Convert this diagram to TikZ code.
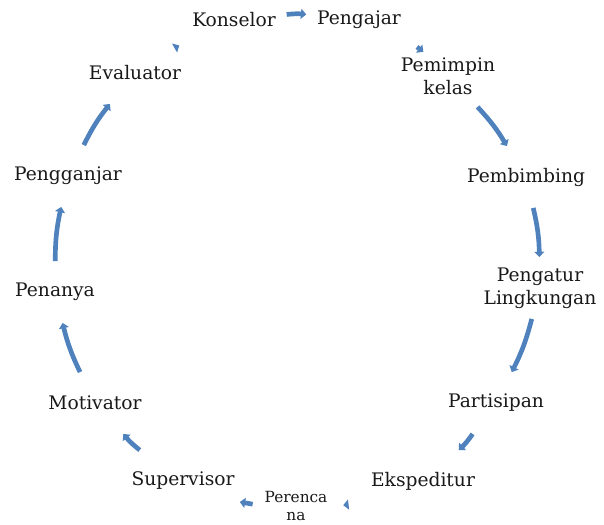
\documentclass[tikz,border=0pt]{standalone}
\usepackage{fontspec}
\setmainfont{DejaVu Serif}
\usetikzlibrary{arrows.meta}
\definecolor{siklusbiru}{HTML}{4F81BD}

\begin{document}
\begin{tikzpicture}[x=0.75pt, y=0.75pt,
    peran/.style={inner xsep=8pt, inner ysep=2pt, minimum height=46pt, align=center,
        text=black!90, font=\fontsize{14}{17.5}\selectfont},
    panah/.style={draw=siklusbiru, line width=3.5pt, -{Triangle[length=4pt, width=7.5pt]}}]
    \useasboundingbox (0,0) rectangle (604,-525);

    % ノードの定義
    \node[peran] (konselor)  at (234, -20)  {Konselor};
    \node[peran] (pengajar)  at (359, -20)  {Pengajar};
    \node[peran] (pemimpin)  at (448, -76)  {Pemimpin\\kelas};
    \node[peran] (pembimbing) at (526, -177) {Pembimbing};
    \node[peran] (pengatur)  at (540, -288) {Pengatur\\Lingkungan};
    \node[peran] (partisipan) at (496, -403) {Partisipan};
    \node[peran] (ekspeditur) at (423, -481) {Ekspeditur};
    \node[peran, font=\fontsize{11.5}{14}\selectfont] (perencana) at (296, -506) {Perenca\\na};
    \node[peran] (supervisor) at (183, -481) {Supervisor};
    \node[peran] (motivator) at (95, -403)  {Motivator};
    \node[peran] (penanya)   at (55, -292)  {Penanya};
    \node[peran] (pengganjar) at (68, -176)  {Pengganjar};
    \node[peran] (evaluator) at (135, -73)  {Evaluator};

    % 短い矢印の位置
    \path (pengajar.center) to[bend left=16] coordinate[pos=0.61] (p1) coordinate[pos=0.69] (p2) (pemimpin.center);
    \path (ekspeditur.center) to[bend left=14] coordinate[pos=0.61] (e1) coordinate[pos=0.65] (e2) (perencana.center);
    \path (perencana.center) to[bend left=14] coordinate[pos=0.36] (r1) coordinate[pos=0.48] (r2) (supervisor.center);
    \path (evaluator.center) to[bend left=6] coordinate[pos=0.41] (v1) coordinate[pos=0.46] (v2) (konselor.center);

    % 矢印を描く
    \draw[panah] (konselor) to[bend left=6] (pengajar);
    \draw[panah] (p1) -- (p2);
    \draw[panah] (pemimpin) to[bend left=6] (pembimbing);
    \draw[panah] (pembimbing) to[bend left=6] (pengatur);
    \draw[panah] (pengatur) to[bend left=6] (partisipan);
    \draw[panah] (partisipan) to[bend left=6] (ekspeditur);
    \draw[panah] (e1) -- (e2);
    \draw[panah] (r1) -- (r2);
    \draw[panah] (supervisor) to[bend left=6] (motivator);
    \draw[panah] (motivator) to[bend left=6] (penanya);
    \draw[panah] (penanya) to[bend left=6] (pengganjar);
    \draw[panah] (pengganjar) to[bend left=6] (evaluator);
    \draw[panah] (v1) -- (v2);

\end{tikzpicture}
\end{document}
